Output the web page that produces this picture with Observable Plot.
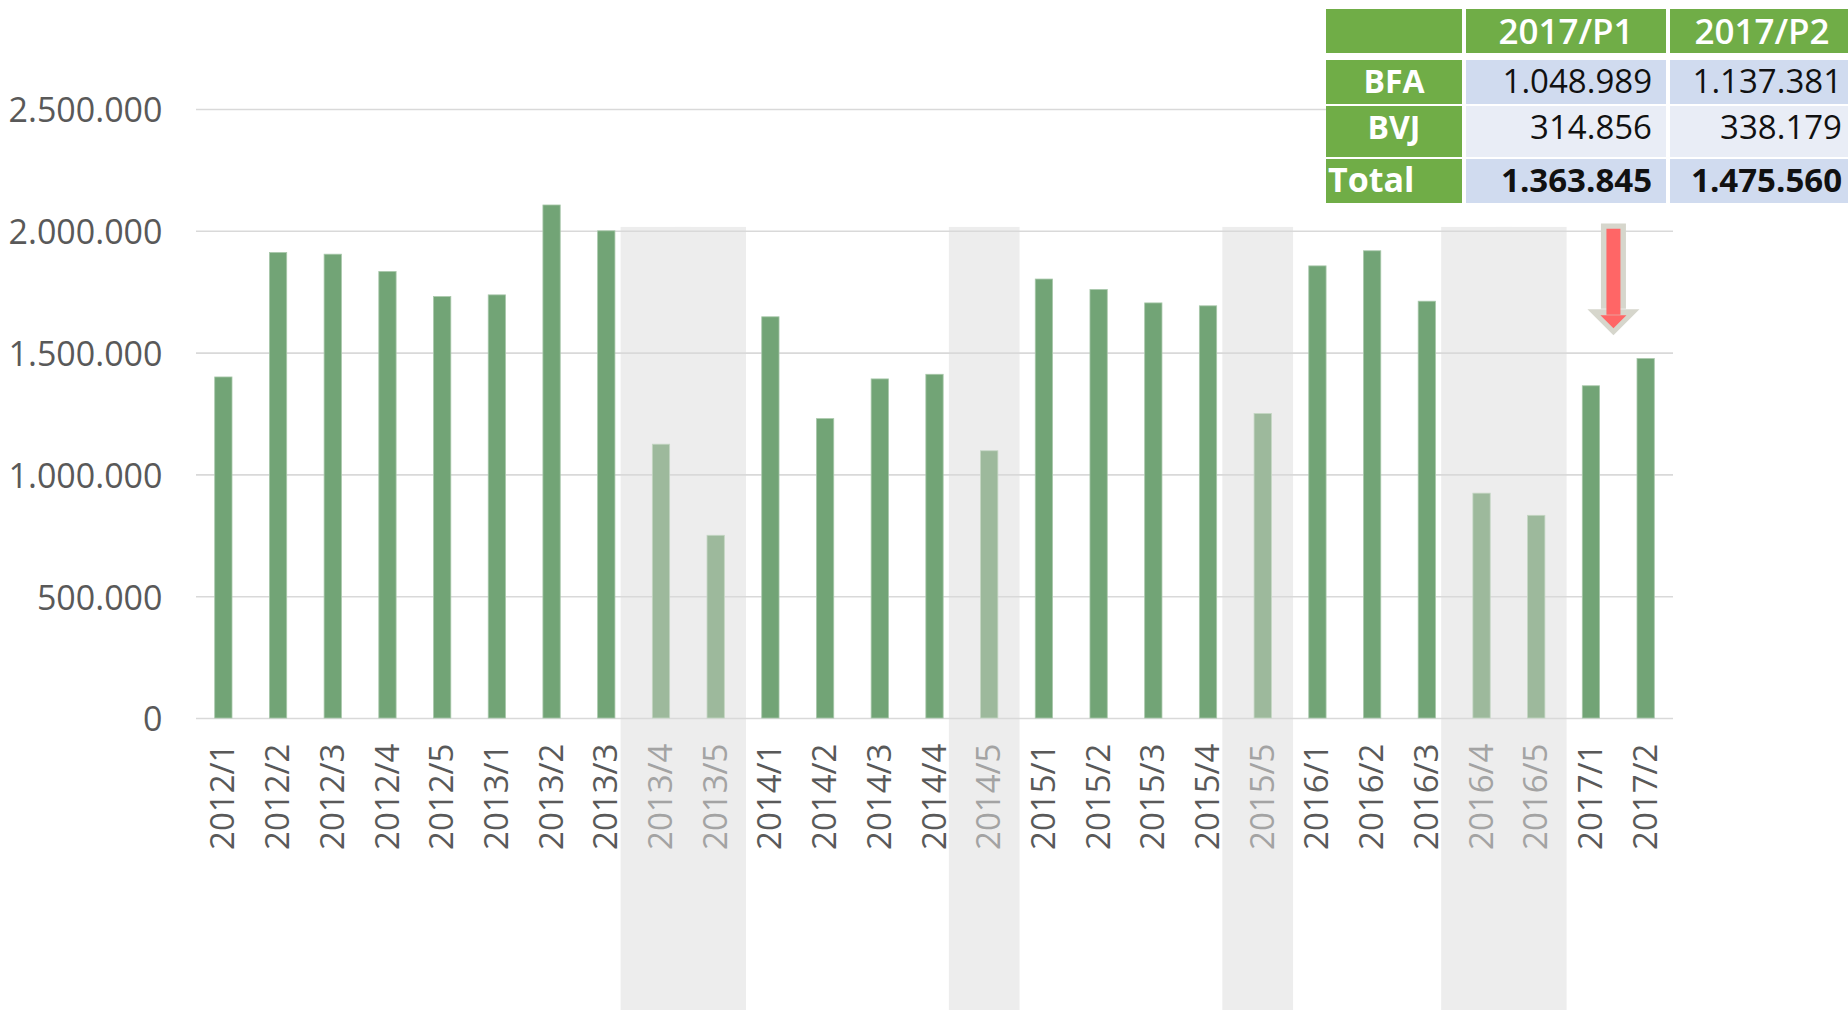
<!DOCTYPE html>
<html>
<head>
<meta charset="utf-8">
<script src="https://cdn.jsdelivr.net/npm/d3@7"></script>
<script src="https://cdn.jsdelivr.net/npm/@observablehq/plot@0.6"></script>
<style>
  html, body { margin: 0; padding: 0; background: #fff; overflow: hidden; }
  #wrap { position: relative; width: 1848px; height: 1010px; overflow: hidden; font-family: "Open Sans", sans-serif; }
  #chart svg { display: block; }
  #tbl { position: absolute; left: 1326px; top: 9px; background: #fff; width: 540px; }
  #tbl .row { display: flex; gap: 4px; margin-bottom: 2px; }
  #tbl .row.head { margin-bottom: 7px; }
  #tbl .cell { height: 44px; line-height: 41px; font-size: 33px; box-sizing: border-box; white-space: nowrap; overflow: visible; }
  #tbl .row.head .cell { line-height: 44px; }
  #tbl .row.tall .cell { height: 51px; }
  #tbl .c0 { width: 136px; }
  #tbl .c1 { width: 200px; }
  #tbl .c2 { width: 184px; }
  #tbl .green { background: #70ad47; color: #fff; font-weight: bold; text-align: center; font-size: 32px; }
  #tbl .green.hdr { font-weight: 600; font-size: 35px; }
  #tbl .val { text-align: right; padding-right: 14px; color: #111; }
  #tbl .c2.val { padding-right: 12px; }
  #tbl .dark { background: #d0dbef; }
  #tbl .light { background: #e9edf6; }
  #tbl .bold { font-weight: bold; }
  #tbl .left { text-align: left; padding-left: 2px; font-size: 34px; }
</style>
</head>
<body>
<div id="wrap">
  <div id="chart"></div>
  <div id="tbl"></div>
</div>
<script>
// ---- data ----
const categories = ["2012/1","2012/2","2012/3","2012/4","2012/5",
  "2013/1","2013/2","2013/3","2013/4","2013/5",
  "2014/1","2014/2","2014/3","2014/4","2014/5",
  "2015/1","2015/2","2015/3","2015/4","2015/5",
  "2016/1","2016/2","2016/3","2016/4","2016/5",
  "2017/1","2017/2"];
const totals = [1400000, 1911000, 1904000, 1833000, 1730000,
  1737000, 2106000, 2000000, 1124000, 750000,
  1647000, 1229000, 1392000, 1411000, 1097000,
  1802000, 1759000, 1704000, 1692000, 1250000,
  1856000, 1918000, 1711000, 923000, 832000,
  1363845, 1475560];
const partialPeriods = ["2013/4","2013/5","2014/5","2015/5","2016/4","2016/5"];
const yTicks = [0, 500000, 1000000, 1500000, 2000000, 2500000];
const shadeTop = 2016000;
const shadeBottom = -1300000;

const tableColumns = ["2017/P1", "2017/P2"];
const tableRowLabels = ["BFA", "BVJ", "Total"];
const bfaValues = [1048989, 1137381];
const bvjValues = [314856, 338179];
const totalValues = [1363845, 1475560];

// arrow annotation (between 2017/1 and 2017/2)
const arrowCategory = ["2017/1"];
const arrowOuter = [2030000, 1680000];  // top, head base
const arrowInner = [2008000, 1655000];

// ---- helpers ----
const fmt = d3.formatLocale({decimal: ",", thousands: ".", grouping: [3], currency: ["", ""]}).format(",d");
const data = categories.map((c, i) => ({cat: c, value: totals[i], partial: partialPeriods.includes(c)}));
const shaded = data.filter(d => d.partial);
const arrowData = [{cat: arrowCategory[0], top: arrowOuter[0], base: arrowOuter[1], itop: arrowInner[0], ibase: arrowInner[1]}];

const downTriangle = {
  draw(ctx, size) {
    const r = Math.sqrt(size / Math.PI);
    ctx.moveTo(-r, 0);
    ctx.lineTo(r, 0);
    ctx.lineTo(0, r);
    ctx.closePath();
  }
};

const arrowDx = 22;

const chart = Plot.plot({
  width: 1848,
  height: 1010,
  marginLeft: 196,
  marginRight: 175,
  marginTop: 109,
  marginBottom: 292,
  style: {fontFamily: "'Open Sans', sans-serif", fontSize: "34px", color: "#595959", background: "transparent", overflow: "visible"},
  x: {domain: categories, type: "band", padding: 0, round: false, axis: null},
  y: {domain: [0, 2500000], axis: null},
  marks: [
    Plot.barY(shaded, {x: "cat", y1: shadeBottom, y2: shadeTop, fill: "#ededed", insetLeft: -13, insetRight: -3}),
    Plot.ruleY(yTicks, {stroke: "#d9d9d9", strokeWidth: 1.6}),
    Plot.barY(data, {x: "cat", y: "value", fill: d => d.partial ? "#9db99c" : "#72a476",
      stroke: d => d.partial ? "#c4d6c3" : "#a9c8ab", strokeWidth: 0.8, insetLeft: 18.7, insetRight: 18.7}),
    Plot.text(yTicks, {y: d => d, text: d => fmt(d), frameAnchor: "left", textAnchor: "end", dx: -34, dy: 2,
      fill: "#595959", fontSize: 34}),
    Plot.text(data, {x: "cat", y: 0, text: "cat", rotate: -90, textAnchor: "end", dy: 25,
      fill: d => d.partial ? "#a3a3a3" : "#595959", fontSize: 33}),
    Plot.ruleX(arrowData, {x: "cat", y1: "top", y2: "base", stroke: "#d6d6cc", strokeWidth: 25, dx: arrowDx}),
    Plot.dot(arrowData, {x: "cat", y: "base", symbol: downTriangle, r: 26, fill: "#d6d6cc", stroke: "none", dx: arrowDx}),
    Plot.ruleX(arrowData, {x: "cat", y1: "itop", y2: "ibase", stroke: "#ff6666", strokeWidth: 14, dx: arrowDx}),
    Plot.dot(arrowData, {x: "cat", y: "ibase", symbol: downTriangle, r: 13, fill: "#ff6666", stroke: "none", dx: arrowDx})
  ]
});
document.getElementById("chart").appendChild(chart);

// ---- table ----
const tbl = document.getElementById("tbl");
function row(cls, cells) {
  const r = document.createElement("div");
  r.className = "row " + cls;
  cells.forEach(([text, c]) => {
    const d = document.createElement("div");
    d.className = "cell " + c;
    d.textContent = text;
    r.appendChild(d);
  });
  tbl.appendChild(r);
}
row("head", [["", "c0 green hdr"], [tableColumns[0], "c1 green hdr"], [tableColumns[1], "c2 green hdr"]]);
row("", [[tableRowLabels[0], "c0 green"], [fmt(bfaValues[0]), "c1 val dark"], [fmt(bfaValues[1]), "c2 val dark"]]);
row("tall", [[tableRowLabels[1], "c0 green"], [fmt(bvjValues[0]), "c1 val light"], [fmt(bvjValues[1]), "c2 val light"]]);
row("", [[tableRowLabels[2], "c0 green left"], [fmt(totalValues[0]), "c1 val dark bold"], [fmt(totalValues[1]), "c2 val dark bold"]]);
</script>
</body>
</html>
